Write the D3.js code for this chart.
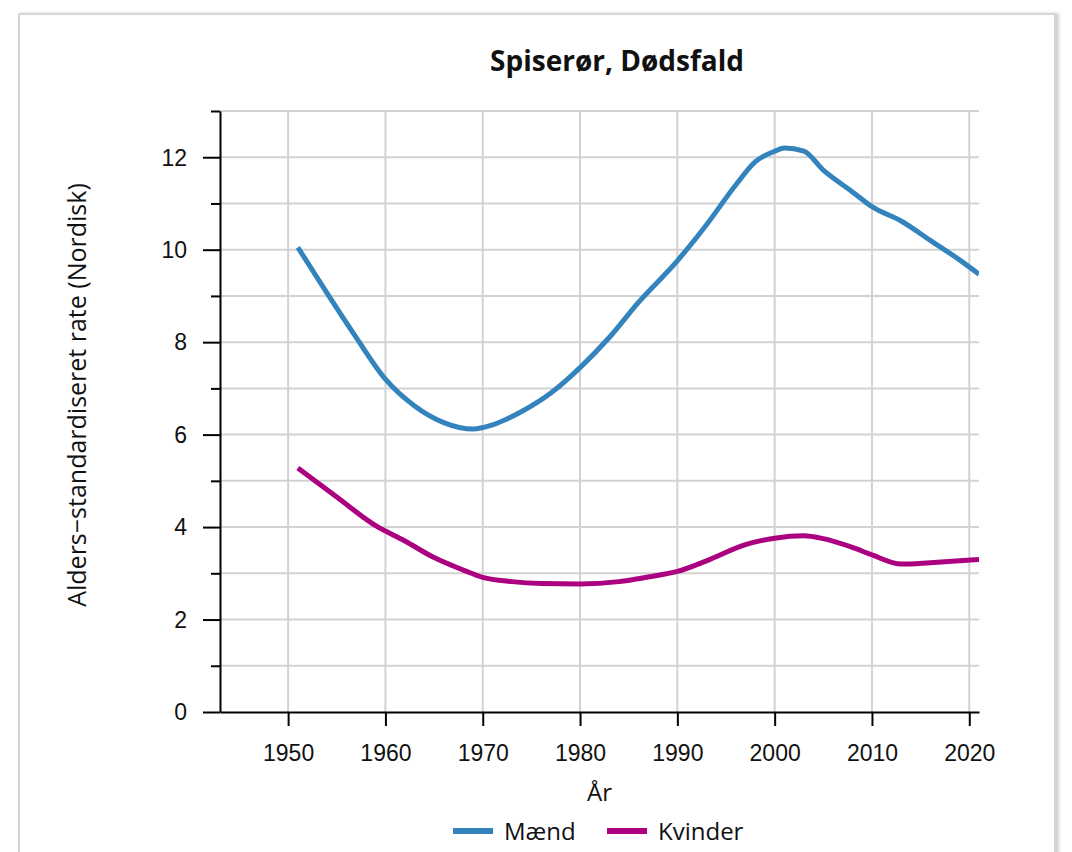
<!DOCTYPE html>
<html>
<head>
<meta charset="utf-8">
<script src="https://cdn.jsdelivr.net/npm/d3@7"></script>
<style>
  html, body { margin: 0; padding: 0; background: #ffffff; }
  svg { display: block; }
</style>
</head>
<body>
<svg id="chart" width="1072" height="852"></svg>
<script>
// ---- Data ----
const title = "Spiserør, Dødsfald";
const xTitle = "År";
const yTitle = "Alders\u2212standardiseret rate (Nordisk)";
const seriesNames = ["Mænd", "Kvinder"];
const seriesColors = ["#3383bd", "#ab007f"];

const maendYears  = [1951, 1954, 1957, 1960, 1963, 1966, 1969, 1971, 1974, 1977, 1980, 1983, 1986, 1990, 1993, 1996, 1998, 2000, 2001, 2003, 2005, 2008, 2010, 2013, 2016, 2019, 2021];
const maendValues = [10.05, 9.06, 8.1, 7.2, 6.62, 6.26, 6.12, 6.21, 6.5, 6.9, 7.45, 8.1, 8.86, 9.76, 10.54, 11.4, 11.9, 12.13, 12.2, 12.13, 11.72, 11.25, 10.93, 10.62, 10.2, 9.78, 9.47];

const kvinderYears  = [1951, 1955, 1959, 1962, 1965, 1968, 1970, 1973, 1976, 1980, 1984, 1987, 1990, 1993, 1997, 2000, 2003, 2005, 2008, 2010, 2013, 2016, 2019, 2021];
const kvinderValues = [5.28, 4.65, 4.03, 3.7, 3.34, 3.07, 2.91, 2.82, 2.78, 2.77, 2.82, 2.92, 3.04, 3.27, 3.62, 3.76, 3.81, 3.75, 3.56, 3.40, 3.2, 3.23, 3.27, 3.30];

const xTicks = [1950, 1960, 1970, 1980, 1990, 2000, 2010, 2020];
const yTicks = [0, 1, 2, 3, 4, 5, 6, 7, 8, 9, 10, 11, 12, 13];
const xDomain = [1943, 2021];
const yDomain = [0, 13];

// ---- Layout ----
const svg = d3.select("#chart");
const plot = { left: 220, right: 979, top: 111, bottom: 712 };

const x = d3.scaleLinear().domain(xDomain).range([plot.left, plot.right]);
const y = d3.scaleLinear().domain(yDomain).range([plot.bottom, plot.top]);

// card
const defs = svg.append("defs");
const flt = defs.append("filter").attr("id", "shadow").attr("x", "-5%").attr("y", "-5%").attr("width", "110%").attr("height", "110%");
flt.append("feDropShadow").attr("dx", 3).attr("dy", 0).attr("stdDeviation", 1.5).attr("flood-color", "#000").attr("flood-opacity", 0.18);
svg.append("rect")
  .attr("x", 19).attr("y", 14).attr("width", 1036).attr("height", 860)
  .attr("fill", "#fff").attr("stroke", "#d6d6d6").attr("stroke-width", 2)
  .attr("filter", "url(#shadow)");

defs.append("clipPath").attr("id", "clip")
  .append("rect").attr("x", plot.left).attr("y", plot.top - 10)
  .attr("width", plot.right - plot.left).attr("height", plot.bottom - plot.top + 10);

// grid
const grid = svg.append("g");
grid.selectAll("line.h").data(yTicks.filter(d => d > 0)).join("line")
  .attr("x1", plot.left).attr("x2", plot.right)
  .attr("y1", d => y(d)).attr("y2", d => y(d))
  .attr("stroke", "#d2d2d2").attr("stroke-width", 2);
grid.selectAll("line.v").data(xTicks).join("line")
  .attr("x1", d => x(d)).attr("x2", d => x(d))
  .attr("y1", plot.top).attr("y2", plot.bottom)
  .attr("stroke", "#d2d2d2").attr("stroke-width", 2);

// axes
const font = "'Liberation Sans', Arial, sans-serif";
const yAxis = d3.axisLeft(y).tickValues(yTicks).tickSizeOuter(0)
  .tickFormat(d => d % 2 === 0 ? d : "");
const gy = svg.append("g").attr("transform", `translate(${plot.left},0)`).call(yAxis);
gy.select(".domain").attr("stroke", "#000").attr("stroke-width", 2);
gy.selectAll(".tick line")
  .attr("stroke", "#000").attr("stroke-width", 2)
  .attr("x2", d => d % 2 === 0 ? -17 : -9);
gy.selectAll(".tick text")
  .attr("x", -33).attr("dy", "0.34em")
  .attr("font-family", font).attr("font-size", 23).attr("fill", "#111");

const xAxis = d3.axisBottom(x).tickValues(xTicks).tickSizeOuter(0).tickFormat(d3.format("d"));
const gx = svg.append("g").attr("transform", `translate(0,${plot.bottom})`).call(xAxis);
gx.select(".domain").attr("stroke", "#000").attr("stroke-width", 2);
gx.selectAll(".tick line").attr("stroke", "#000").attr("stroke-width", 2).attr("y2", 14);
gx.selectAll(".tick text")
  .attr("y", 49).attr("dy", 0)
  .attr("font-family", font).attr("font-size", 23).attr("fill", "#111");

// lines
const line = d3.line().x(d => x(d[0])).y(d => y(d[1])).curve(d3.curveMonotoneX);
const series = [
  maendYears.map((yr, i) => [yr, maendValues[i]]),
  kvinderYears.map((yr, i) => [yr, kvinderValues[i]])
];
svg.append("g").attr("clip-path", "url(#clip)")
  .selectAll("path").data(series).join("path")
  .attr("d", line)
  .attr("fill", "none")
  .attr("stroke", (d, i) => seriesColors[i])
  .attr("stroke-width", 5)
  .attr("stroke-linejoin", "round");

// titles
const sans = "'Open Sans', 'Noto Sans', sans-serif";
svg.append("text").text(title)
  .attr("x", 617).attr("y", 71).attr("text-anchor", "middle")
  .attr("font-family", sans).attr("font-weight", 700).attr("font-size", 28).attr("fill", "#111");

svg.append("text").text(xTitle)
  .attr("x", (plot.left + plot.right) / 2).attr("y", 801).attr("text-anchor", "middle")
  .attr("font-family", sans).attr("font-size", 24).attr("fill", "#111");

svg.append("text").text(yTitle)
  .attr("transform", "translate(86,395) rotate(-90)")
  .attr("text-anchor", "middle")
  .attr("font-family", sans).attr("font-size", 25).attr("fill", "#111");

// legend
const legendX = [453, 607];
const lg = svg.append("g");
seriesNames.forEach((name, i) => {
  lg.append("line")
    .attr("x1", legendX[i]).attr("x2", legendX[i] + 40)
    .attr("y1", 831).attr("y2", 831)
    .attr("stroke", seriesColors[i]).attr("stroke-width", 6);
  lg.append("text").text(name)
    .attr("x", legendX[i] + 51).attr("y", 840)
    .attr("font-family", sans).attr("font-size", 24).attr("fill", "#111");
});
</script>
</body>
</html>
